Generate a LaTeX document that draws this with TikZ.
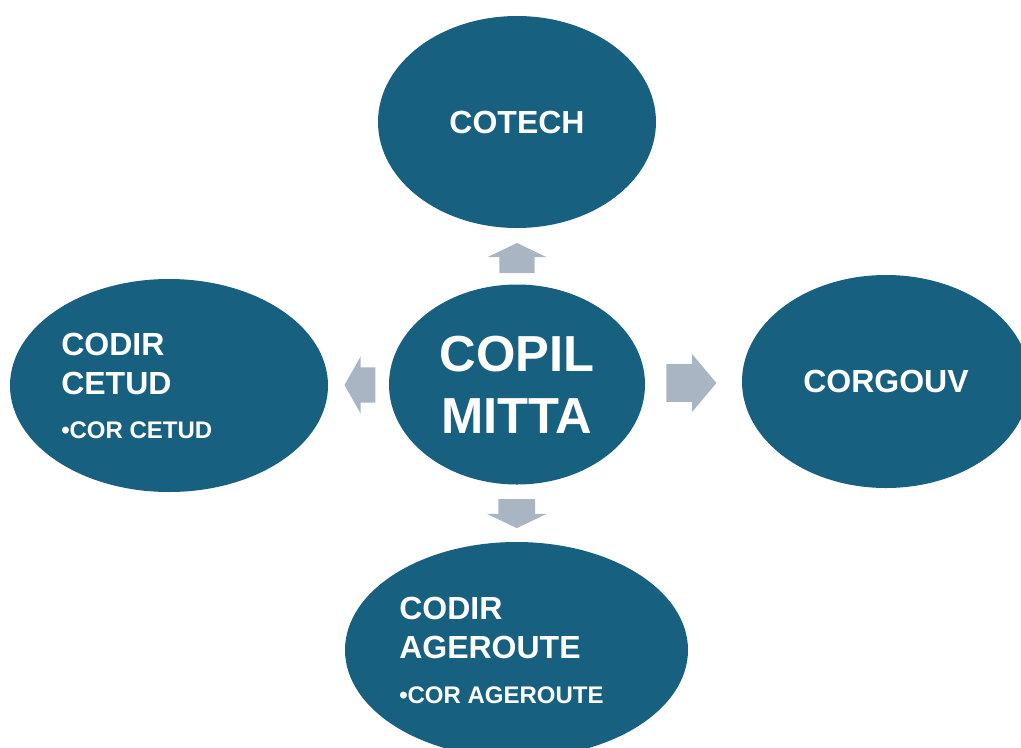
\documentclass[tikz,border=0pt]{standalone}
\usepackage{fontspec}
\setmainfont{Liberation Sans}
\usepackage{tikz}
\usetikzlibrary{shapes,positioning,calc}
\usepackage{xcolor}
\definecolor{mtblue}{RGB}{23,96,128}
\definecolor{mtgray}{RGB}{170,181,195}
\tikzstyle{committee} = [ellipse, fill=mtblue, inner sep=0pt, text=white, align=center, font=\bfseries\fontsize{24}{29.25}\selectfont]
\tikzstyle{titletext} = [anchor=north west, inner sep=0pt, text=white, align=left, font=\bfseries\fontsize{24}{29.25}\selectfont]
\tikzstyle{subtext} = [anchor=base west, inner sep=0pt, text=white, font=\bfseries\fontsize{18}{21.6}\selectfont]
\tikzstyle{blockarrow} = [single arrow, fill=mtgray, single arrow head indent=0pt]

\begin{document}
\begin{tikzpicture}[x=0.75pt, y=-0.75pt]
\useasboundingbox (0,0) rectangle (1021,747);
\clip (0,0) rectangle (1021,747);

% Central committee
\node[committee, minimum width=192pt, minimum height=150pt, font=\bfseries\fontsize{38}{46.5}\selectfont] (copil) at (517,384.5) {COPIL\\MITTA};

% Surrounding committees
\node[committee, minimum width=208.5pt, minimum height=159pt] (cotech) at (517,122) {COTECH};
\node[committee, minimum width=216pt, minimum height=159.75pt] (corgouv) at (886,381.5) {CORGOUV};
\node[committee, minimum width=238.5pt, minimum height=159.75pt] (cetud) at (169,385.5) {};
\node[committee, minimum width=257.25pt, minimum height=162pt] (ageroute) at (516.5,650) {};

% Texts of the left and bottom committees
\node[titletext] (cetudtitle) at (61,333) {CODIR\\CETUD};
\node[subtext] (cetudsub) at (61,438) {•COR CETUD};
\node[titletext] (ageroutetitle) at (399,597) {CODIR\\AGEROUTE};
\node[subtext] (ageroutesub) at (399,703) {•COR AGEROUTE};

% Block arrows
\node[blockarrow, shape border rotate=90, inner xsep=13.1pt, inner ysep=0pt, minimum height=22.5pt, minimum width=44.25pt, single arrow head extend=9pt, single arrow tip angle=129] (tocotech) at ($(copil.north)!0.5!(cotech.south)+(0,6)$) {};
\node[blockarrow, shape border rotate=180, inner xsep=0pt, inner ysep=13.1pt, minimum height=23.25pt, minimum width=42.75pt, single arrow head extend=8.25pt, single arrow tip angle=121] (tocetud) at ($(copil.west)!0.5!(cetud.east)+(6.5,0)$) {};
\node[blockarrow, shape border rotate=0, inner xsep=0pt, inner ysep=13.9pt, minimum height=37.5pt, minimum width=43.5pt, single arrow head extend=7.9pt, single arrow tip angle=100] (tocorgouv) at ($(copil.east)!0.5!(corgouv.west)+(-10,0)$) {};
\node[blockarrow, shape border rotate=270, inner xsep=13.5pt, inner ysep=0pt, minimum height=21.75pt, minimum width=44.25pt, single arrow head extend=8.6pt, single arrow tip angle=129] (toageroute) at ($(copil.south)!0.5!(ageroute.north)+(0,-4)$) {};
\end{tikzpicture}
\end{document}
